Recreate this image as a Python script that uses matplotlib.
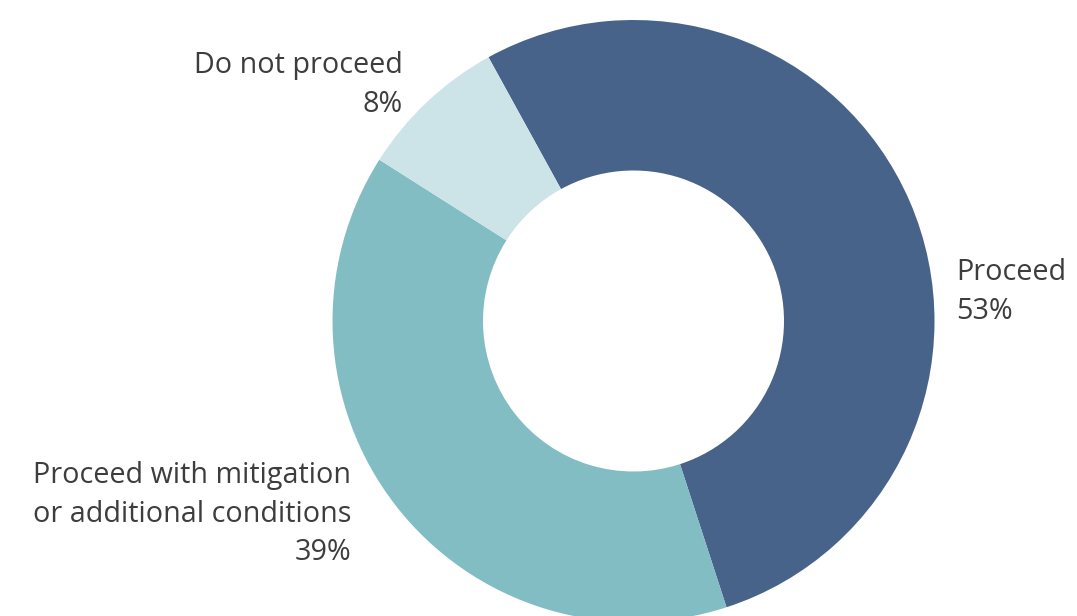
import numpy as np
import matplotlib.pyplot as plt

categories = ['Proceed', 'Proceed with mitigation\nor additional conditions', 'Do not proceed']
shares = [53, 39, 8]
colors = ['#48638a', '#82bdc4', '#cce4e8']

W, H = 1077, 616
fig = plt.figure(figsize=(W/100, H/100), dpi=100)
ax = fig.add_axes([0, 0, 1, 1])
ax.set_xlim(0, W)
ax.set_ylim(0, H)
ax.set_aspect('equal')
ax.axis('off')

cx, cy, r = 633.5, H - 321, 301
ax.pie(shares, colors=colors, startangle=90 + 28.8, counterclock=False,
       center=(cx, cy), radius=r, wedgeprops=dict(width=r * 0.5, linewidth=0),
       frame=True)
ax.set_xlim(0, W)
ax.set_ylim(0, H)
ax.axis('off')

tc = '#3d3d3d'
fs = 20.7
font = 'Open Sans'
ls = 1.45
ax.text(956, H - 292, f'{categories[0]}\n{shares[0]}%', ha='left', va='center',
        fontsize=fs, color=tc, family=font, linespacing=ls)
ax.text(351, H - 514, f'{categories[1]}\n{shares[1]}%', ha='right', va='center',
        fontsize=fs, color=tc, family=font, linespacing=ls)
ax.text(403, H - 85, f'{categories[2]}\n{shares[2]}%', ha='right', va='center',
        fontsize=fs, color=tc, family=font, linespacing=ls)

fig.savefig('out.png', dpi=100)
